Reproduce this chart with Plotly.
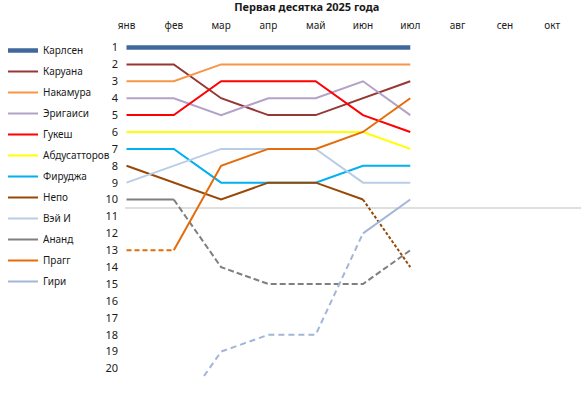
import plotly.graph_objects as go

months = ["янв", "фев", "мар", "апр", "май", "июн", "июл", "авг", "сен", "окт"]
rank_ticks = list(range(1, 21))

players = ["Карлсен", "Каруана", "Накамура", "Эригаиси", "Гукеш", "Абдусатторов",
           "Фируджа", "Непо", "Вэй И", "Ананд", "Прагг", "Гири"]

carlsen      = [1, 1, 1, 1, 1, 1, 1]
caruana      = [2, 2, 4, 5, 5, 4, 3]
nakamura     = [3, 3, 2, 2, 2, 2, 2]
erigaisi     = [4, 4, 5, 4, 4, 3, 5]
gukesh       = [5, 5, 3, 3, 3, 5, 6]
abdusattorov = [6, 6, 6, 6, 6, 6, 7]
firouzja     = [7, 7, 9, 9, 9, 8, 8]
nepo         = [8, 9, 10, 9, 9, 10, 14]
wei_yi       = [9, 8, 7, 7, 7, 9, 9]
anand        = [10, 10, 14, 15, 15, 15, 13]
pragg        = [13, 13, 8, 7, 7, 6, 4]
giri         = [23, 23, 19, 18, 18, 12, 10]

series = [carlsen, caruana, nakamura, erigaisi, gukesh, abdusattorov,
          firouzja, nepo, wei_yi, anand, pragg, giri]

colors = ["#41689C", "#953735", "#F79646", "#B3A2C7", "#FF0000", "#FFFF00",
          "#00B0F0", "#984807", "#B9CDE5", "#7F7F7F", "#E46C0A", "#A3B6D8"]
widths = [4.5, 2, 2, 2, 2, 2, 2, 2, 2, 2, 2, 2]
# (split index, which side is dashed, dash pattern)
dash_info = [None, None, None, None, None, None, None,
             (5, "after", "3px,2px"), None,
             (1, "after", "6px,3px"),
             (1, "before", "5px,3px"),
             (5, "before", "6px,4px")]

fig = go.Figure()
x_idx = list(range(len(carlsen)))
for name, vals, col, w, dinfo in zip(players, series, colors, widths, dash_info):
    if dinfo is None:
        solid = vals
        dashed = None
    else:
        k, side, pat = dinfo
        if side == "after":
            solid = [v if i <= k else None for i, v in enumerate(vals)]
            dashed = [v if i >= k else None for i, v in enumerate(vals)]
        else:
            solid = [v if i >= k else None for i, v in enumerate(vals)]
            dashed = [v if i <= k else None for i, v in enumerate(vals)]
    fig.add_trace(go.Scatter(x=x_idx, y=solid, mode="lines", name=name,
                             legendgroup=name, showlegend=True,
                             line=dict(color=col, width=w), connectgaps=False))
    if dashed is not None:
        fig.add_trace(go.Scatter(x=x_idx, y=dashed, mode="lines", name=name,
                                 legendgroup=name, showlegend=False,
                                 line=dict(color=col, width=w, dash=dinfo[2]),
                                 connectgaps=False))

# top-10 cutoff line
fig.add_shape(type="line", xref="x", yref="y", x0=-0.03, x1=9.7, y0=10.5, y1=10.5,
              line=dict(color="#BFBFBF", width=1), layer="below")

font = "Noto Sans, Open Sans, DejaVu Sans, sans-serif"
fig.update_layout(
    width=581, height=398,
    margin=dict(l=125, r=0, t=39, b=19, autoexpand=False),
    paper_bgcolor="white", plot_bgcolor="white",
    font=dict(family=font, size=10, color="#1a1a1a"),
    title=dict(text="<b>Первая десятка 2025 года</b>", x=0.528, xanchor="center",
               y=1 - 3 / 398, yanchor="top", yref="container", pad=dict(t=0, b=0),
               font=dict(size=11, color="#1a1a1a", family=font)),
    showlegend=True,
    legend=dict(xref="container", yref="container", x=3 / 581, xanchor="left",
                y=1 - 36 / 398, yanchor="top", traceorder="grouped",
                tracegroupgap=2, font=dict(size=10, family=font, color="#1a1a1a"),
                bgcolor="rgba(0,0,0,0)", borderwidth=0, itemwidth=30,
                maxheight=380),
    xaxis=dict(range=[-0.032, 9.61], side="top", tickmode="array",
               tickvals=list(range(len(months))), ticktext=months,
               showgrid=False, zeroline=False, showline=False,
               ticks="outside", ticklen=5, tickcolor="rgba(0,0,0,0)",
               tickfont=dict(size=10, family=font, color="#1a1a1a")),
    yaxis=dict(range=[20.62, 0.497], tickmode="array", tickvals=rank_ticks,
               ticktext=[str(r) for r in rank_ticks],
               showgrid=False, zeroline=False, showline=False,
               ticks="", ticklabelstandoff=6,
               tickfont=dict(size=11, family=font, color="#1a1a1a")),
)

fig.write_html("out.html", config={"displayModeBar": False},
               post_script="document.body.style.margin='0';document.body.style.padding='0';")
